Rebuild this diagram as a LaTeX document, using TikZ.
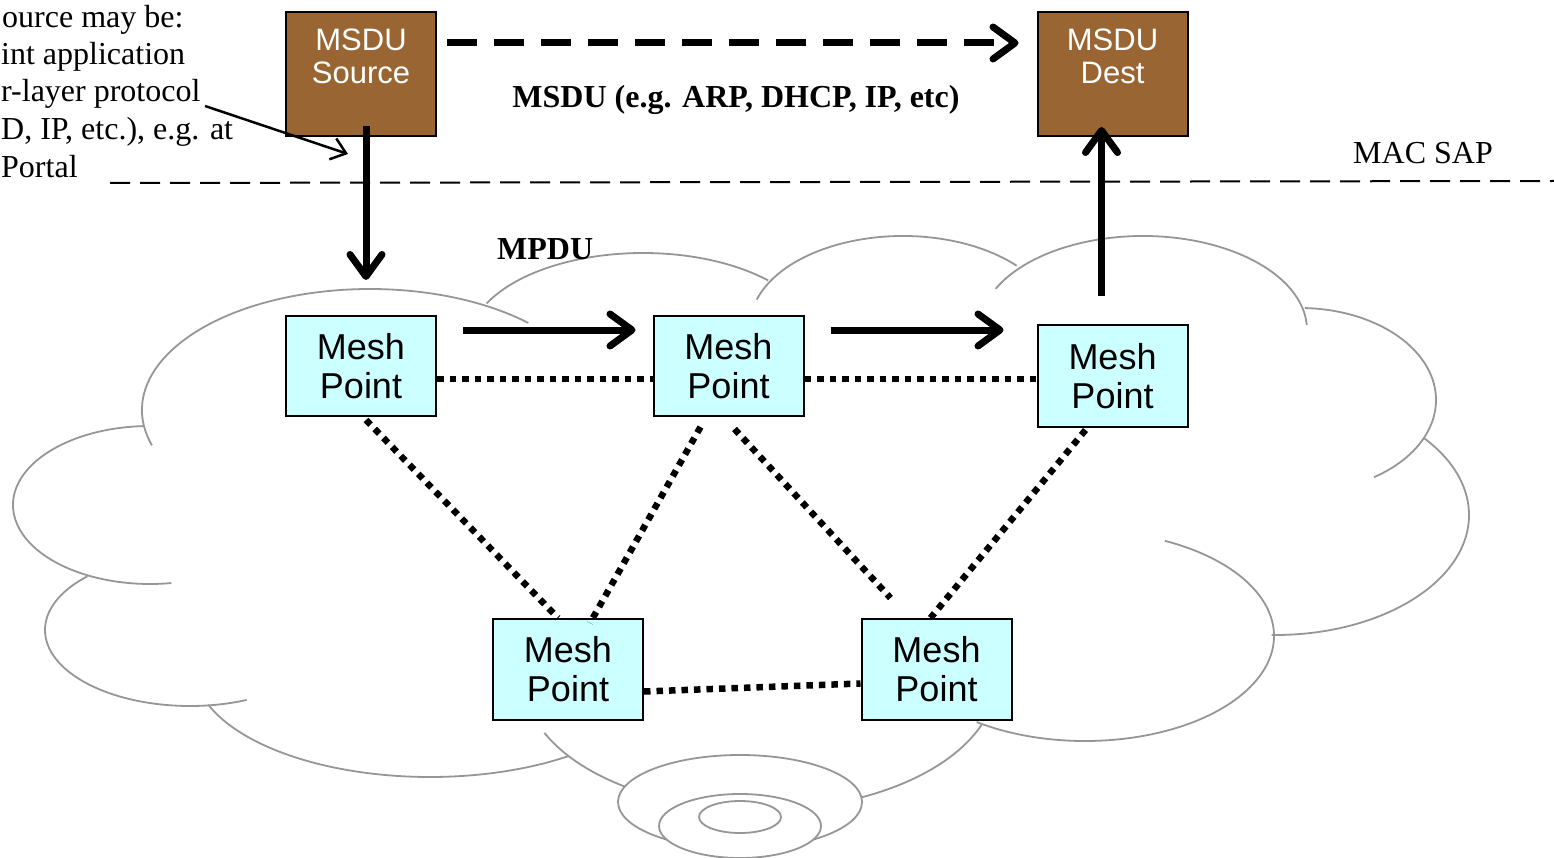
\documentclass[tikz,border=0pt]{standalone}
\usepackage{fontspec}
\setmainfont{Liberation Serif}
\newfontfamily\arialf{Liberation Sans}
\usetikzlibrary{arrows.meta}
\definecolor{cloudgray}{RGB}{150,150,150}
\definecolor{msdubrown}{RGB}{153,102,51}
\definecolor{meshcyan}{RGB}{204,255,255}
\newcommand\lobe[6]{\draw[cloudline] (#1,#2) ++(#5:#3pt and #4pt) arc[start angle=#5, end angle=#6, x radius=#3pt, y radius=#4pt];}
\begin{document}
\begin{tikzpicture}[x=1pt,y=-1pt,
  cloudline/.style={draw=cloudgray, line width=1.8pt},
  meshbox/.style={draw=black, line width=2pt, fill=meshcyan, minimum width=150pt, minimum height=100pt, inner sep=0pt, align=center, font=\arialf\fontsize{36}{39}\selectfont},
  msdubox/.style={draw=black, line width=2pt, fill=msdubrown, minimum width=150pt, minimum height=124pt, inner sep=0pt},
  msdutext/.style={text=white, align=center, font=\arialf\fontsize{31}{33}\selectfont, inner sep=0pt},
  flow/.style={line width=7pt, -{Straight Barb[length=22pt,width=32pt,round]}},
  dotlink/.style={line width=6.5pt, dash pattern=on 6.5pt off 6pt},
  serif/.style={font=\fontsize{32}{38}\selectfont, inner sep=0pt},
  serifbold/.style={font=\bfseries\fontsize{32}{38}\selectfont, inner sep=0pt},
]
\useasboundingbox (0,0) rectangle (1554,858);

% cloud
\lobe{370}{410}{228}{121}{-163}{-314}
\lobe{150}{505}{137}{79}{-267}{-81}
\lobe{190}{630}{145}{76}{-225}{-67}
\lobe{430}{667}{236}{110}{-160}{-54}
\lobe{760}{680}{236}{130}{-156}{-20}
\lobe{1085}{636}{189}{105}{-125}{65}
\lobe{1275}{515}{194}{120}{-91}{40}
\lobe{1300}{400}{136}{92}{-57}{88}
\lobe{1143}{330}{164}{94}{-206}{-357}
\lobe{903}{326}{153}{90}{-197}{-318}
\lobe{643}{343}{174}{90}{-206}{-316}
\draw[cloudline, fill=white] (740,802) ellipse [x radius=122pt, y radius=47pt];
\draw[cloudline, fill=white] (740,826) ellipse [x radius=81pt, y radius=32pt];
\draw[cloudline] (740,817) ellipse [x radius=41pt, y radius=16pt];

% MAC SAP line
\coordinate (sapL) at (110,183);
\coordinate (sapR) at (1554,181);
\draw[line width=2pt, dash pattern=on 20pt off 10pt] (sapL) -- (sapR);

% boxes
\node[msdubox] (src) at (361,74) {};
\node[msdutext] (srct) at (361,56.5) {MSDU\\Source};
\node[msdubox] (dst) at (1112.5,74) {};
\node[msdutext] (dstt) at (1112.5,56.5) {MSDU\\Dest};

\node[meshbox] (mp1) at (361,366) {Mesh\\Point};
\node[meshbox] (mp2) at (728.5,366) {Mesh\\Point};
\node[meshbox, minimum height=102pt] (mp3) at (1112.5,376) {Mesh\\Point};
\node[meshbox, minimum height=101pt] (mp4) at (568,669.5) {Mesh\\Point};
\node[meshbox, minimum height=101pt] (mp5) at (936.5,669.5) {Mesh\\Point};

% dotted links
\draw[dotlink] ([yshift=-13pt]mp1.east) -- ([yshift=-13pt]mp2.west);
\draw[dotlink] ([yshift=-13pt]mp2.east) -- ([yshift=-13pt]mp2.east -| mp3.west);
\draw[dotlink] ([xshift=5pt,yshift=-3pt]mp1.south) -- ([xshift=-10pt]mp4.north);
\draw[dotlink] ([xshift=-28pt,yshift=-10pt]mp2.south) -- ([xshift=22pt,yshift=-5pt]mp4.north);
\draw[dotlink] ([xshift=6pt,yshift=-12pt]mp2.south) -- ([xshift=-46pt,yshift=20pt]mp5.north);
\draw[dotlink] ([xshift=-27pt,yshift=-2pt]mp3.south) -- ([xshift=-6pt]mp5.north);
\draw[dotlink] ([yshift=-22pt]mp4.east) -- ([yshift=-14pt]mp5.west);

% flow arrows
\draw[flow, dash pattern=on 30pt off 17pt] ([xshift=10pt,yshift=31pt]src.east) -- ([xshift=-18pt,yshift=31pt]dst.west);
\draw[flow] ([xshift=5pt,yshift=11pt]src.south) -- ([xshift=5pt,yshift=35pt]mp1.north);
\draw[flow] ([xshift=26pt,yshift=36pt]mp1.east) -- ([xshift=-17pt,yshift=36pt]mp2.west);
\draw[flow] ([xshift=26pt,yshift=36pt]mp2.east) -- ([xshift=-33pt,yshift=46pt]mp3.west);
\draw[flow] ([xshift=-11pt,yshift=28pt]mp3.north) -- ([xshift=-11pt,yshift=10pt]dst.south);

% labels
\node[serifbold, anchor=base] (msdulbl) at (736,108) {MSDU (e.g. ARP, DHCP, IP, etc)};
\node[serifbold, anchor=base west] (mpdulbl) at (497,260) {MPDU};
\node[serif, anchor=base west] (saplbl) at (1353,164) {MAC SAP};

\node[serif, anchor=base west] (t1) at (2,28) {ource may be:};
\node[serif, anchor=base west] (t2) at (1,65) {int application};
\node[serif, anchor=base west] (t3) at (1,102) {r-layer protocol};
\node[serif, anchor=base west] (t4) at (1,140) {D, IP, etc.), e.g. at};
\node[serif, anchor=base west] (t5) at (1,178) {Portal};

\coordinate (noteS) at (205,106);
\coordinate (noteE) at (348,154);
\draw[line width=2.5pt, -{Straight Barb[length=14pt,width=22pt]}] (noteS) -- (noteE);
\end{tikzpicture}
\end{document}
